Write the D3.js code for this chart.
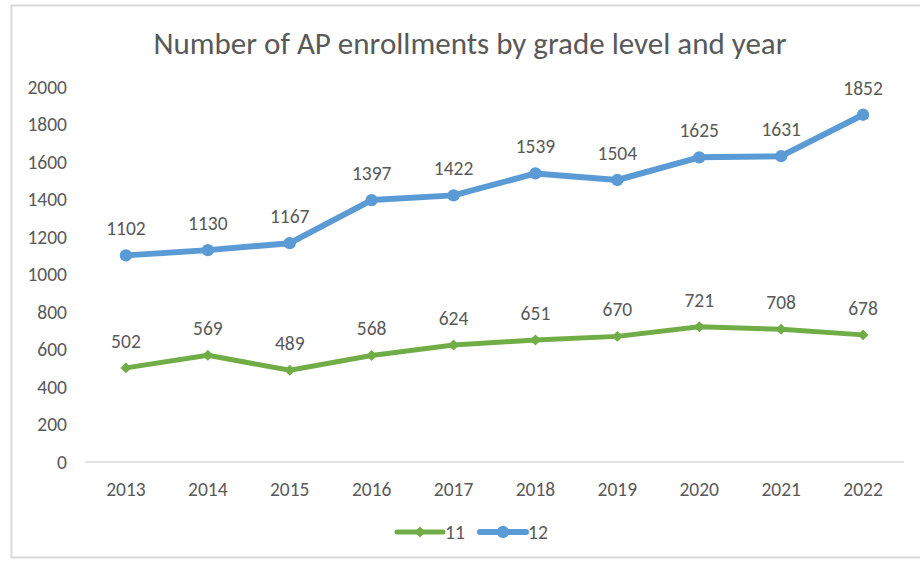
<!DOCTYPE html>
<html>
<head>
<meta charset="utf-8">
<script src="https://cdn.jsdelivr.net/npm/d3@7"></script>
<style>
  body { margin: 0; background: #fff; }
  text { font-family: Carlito, Calibri, "Open Sans", sans-serif; fill: #595959; }
</style>
</head>
<body>
<div id="chart"></div>
<script>
const years = ['2013', '2014', '2015', '2016', '2017', '2018', '2019', '2020', '2021', '2022'];
const grade11 = [502, 569, 489, 568, 624, 651, 670, 721, 708, 678];
const grade12 = [1102, 1130, 1167, 1397, 1422, 1539, 1504, 1625, 1631, 1852];
const yTicks = [0, 200, 400, 600, 800, 1000, 1200, 1400, 1600, 1800, 2000];
const title = 'Number of AP enrollments by grade level and year';

const outerWidth = 920;
const outerHeight = 562;
const plot = {left: 85, right: 904, top: 87, bottom: 462};
const labelSize = '19.5px';

const svg = d3.select('#chart').append('svg')
   .attr('width', outerWidth)
   .attr('height', outerHeight);

// chart frame
svg.append('rect')
   .attr('x', 11.5)
   .attr('y', 5.5)
   .attr('width', 960)
   .attr('height', 552)
   .attr('fill', '#fff')
   .attr('stroke', '#d9d9d9')
   .attr('stroke-width', 2);

const x = d3.scaleBand()
  .domain(years)
  .range([plot.left, plot.right]);

const y = d3.scaleLinear()
  .domain([0, 2000])
  .range([plot.bottom, plot.top]);

const cx = d => x(d) + x.bandwidth() / 2;

svg.append('text')
   .attr('x', 470)
   .attr('y', 43)
   .attr('dy', '0.35em')
   .attr('text-anchor', 'middle')
   .style('font-size', '31px')
   .text(title);

// y axis labels
svg.append('g')
   .selectAll('text')
   .data(yTicks)
   .join('text')
   .attr('x', 67)
   .attr('y', d => y(d))
   .attr('dy', '0.35em')
   .attr('text-anchor', 'end')
   .style('font-size', labelSize)
   .text(d => d);

// baseline
svg.append('line')
   .attr('x1', plot.left)
   .attr('x2', plot.right)
   .attr('y1', y(0))
   .attr('y2', y(0))
   .attr('stroke', '#d9d9d9')
   .attr('stroke-width', 1.5);

// x axis labels
svg.append('g')
   .selectAll('text')
   .data(years)
   .join('text')
   .attr('x', d => cx(d))
   .attr('y', y(0) + 27)
   .attr('dy', '0.35em')
   .attr('text-anchor', 'middle')
   .style('font-size', labelSize)
   .text(d => d);

const line = d3.line()
   .x(d => cx(d[0]))
   .y(d => y(d[1]));

// excel style diamond = square turned 45 degrees
const series = [
   {name: '11', values: grade11, color: '#70ad47', width: 5, shape: d3.symbolSquare, size: 60, rot: 45},
   {name: '12', values: grade12, color: '#5b9bd5', width: 6, shape: d3.symbolCircle, size: 120, rot: 0}
];

series.forEach(s => {
   const pts = years.map((yr, i) => [yr, s.values[i]]);
   const g = svg.append('g');
   g.append('path')
      .attr('d', line(pts))
      .attr('fill', 'none')
      .attr('stroke', s.color)
      .attr('stroke-width', s.width)
      .attr('stroke-linejoin', 'round')
      .attr('stroke-linecap', 'round');
   g.selectAll('path.marker')
      .data(pts)
      .join('path')
      .attr('class', 'marker')
      .attr('transform', d => `translate(${cx(d[0])},${y(d[1])}) rotate(${s.rot})`)
      .attr('d', d3.symbol().type(s.shape).size(s.size))
      .attr('fill', s.color);
   g.selectAll('text')
      .data(pts)
      .join('text')
      .attr('x', d => cx(d[0]))
      .attr('y', d => y(d[1]) - 27)
      .attr('dy', '0.35em')
      .attr('text-anchor', 'middle')
      .style('font-size', labelSize)
      .text(d => d[1]);
});

// legend
const legend = svg.append('g');
const legendItems = [
   {s: series[0], x0: 397},
   {s: series[1], x0: 480}
];
legendItems.forEach(({s, x0}) => {
   legend.append('line')
      .attr('x1', x0)
      .attr('x2', x0 + 46)
      .attr('y1', 532)
      .attr('y2', 532)
      .attr('stroke', s.color)
      .attr('stroke-width', s.width)
      .attr('stroke-linecap', 'round');
   legend.append('path')
      .attr('transform', `translate(${x0 + 23},532) rotate(${s.rot})`)
      .attr('d', d3.symbol().type(s.shape).size(s.size))
      .attr('fill', s.color);
   legend.append('text')
      .attr('x', x0 + 48)
      .attr('y', 532)
      .attr('dy', '0.35em')
      .style('font-size', labelSize)
      .text(s.name);
});
</script>
</body>
</html>
